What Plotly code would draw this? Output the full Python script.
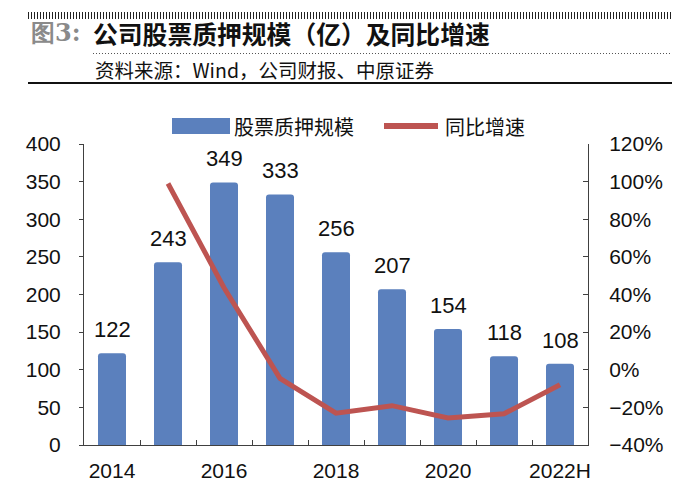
import plotly.graph_objects as go

categories = ["2014", "2015", "2016", "2017", "2018", "2019", "2020", "2021", "2022H"]
pledge_scale = [122, 243, 349, 333, 256, 207, 154, 118, 108]
yoy_growth = [None, 0.99, 0.436, -0.046, -0.231, -0.191, -0.256, -0.234, -0.08]
tick_labels = ["2014", "", "2016", "", "2018", "", "2020", "", "2022H"]
left_ticks = [0, 50, 100, 150, 200, 250, 300, 350, 400]
right_ticks = [-0.4, -0.2, 0, 0.2, 0.4, 0.6, 0.8, 1.0, 1.2]

BAR = "#5b80bd"
LINE = "#bd5451"
AX = "#404040"
FONT = "Liberation Sans, Arial, sans-serif"
CJK = "Noto Sans CJK SC, sans-serif"

L, R, T, B = 84, 588, 144, 445
W, H = 700, 495

def px(x):
    return (x - L) / (R - L)

def py(y):
    return (B - y) / (B - T)

fig = go.Figure()
fig.add_trace(go.Bar(
    x=categories, y=pledge_scale, name="股票质押规模",
    marker=dict(color=BAR, line=dict(width=0), cornerradius=3),
    width=0.5, showlegend=False, hoverinfo="skip",
))
fig.add_trace(go.Scatter(
    x=categories, y=yoy_growth, name="同比增速", yaxis="y2", mode="lines",
    line=dict(color=LINE, width=5), connectgaps=False, showlegend=False,
    hoverinfo="skip",
))

fig.update_layout(
    width=W, height=H,
    margin=dict(l=L, r=W - R, t=T, b=H - B, pad=0),
    paper_bgcolor="white", plot_bgcolor="white",
    xaxis=dict(type="category", tickmode="array", tickvals=categories,
               ticktext=tick_labels, ticks="inside", tickson="boundaries",
               ticklen=5, tickcolor=AX, ticklabelstandoff=7, tickangle=0,
               automargin=False,
               showline=True, linecolor=AX, linewidth=1,
               showgrid=False, tickfont=dict(family=FONT, size=21, color="#111"),
               range=[-0.5, 8.5], fixedrange=True),
    yaxis=dict(range=[0, 400], tickvals=left_ticks, showgrid=False,
               showline=True, linecolor=AX, linewidth=1, ticks="outside",
               ticklen=4, tickcolor=AX, zeroline=False, ticklabelstandoff=14,
               automargin=False, fixedrange=True,
               tickfont=dict(family=FONT, size=21, color="#111")),
    yaxis2=dict(range=[-0.4, 1.2], tickvals=right_ticks, tickformat=".0%",
                overlaying="y", side="right", showgrid=False, showline=True,
                linecolor=AX, linewidth=1, ticks="inside", ticklen=5,
                tickcolor=AX, zeroline=False, ticklabelstandoff=16,
                automargin=False, fixedrange=True,
                tickfont=dict(family=FONT, size=21, color="#111")),
)

shapes = []
# header lines
shapes.append(dict(type="line", xref="paper", yref="paper", x0=px(28), x1=px(672),
                   y0=py(15.5), y1=py(15.5), line=dict(color="#222", width=7, dash="1px,2px")))
shapes.append(dict(type="line", xref="paper", yref="paper", x0=px(93), x1=px(672),
                   y0=py(53.5), y1=py(53.5), line=dict(color="#555", width=1, dash="1px,2px")))
shapes.append(dict(type="line", xref="paper", yref="paper", x0=px(28), x1=px(672),
                   y0=py(83), y1=py(83), line=dict(color="#111", width=2)))
# legend symbols
shapes.append(dict(type="rect", xref="paper", yref="paper", x0=px(172), x1=px(230),
                   y0=py(134), y1=py(118), fillcolor=BAR, line=dict(width=0)))
shapes.append(dict(type="line", xref="paper", yref="paper", x0=px(384), x1=px(438),
                   y0=py(126), y1=py(126), line=dict(color=LINE, width=6)))
fig.update_layout(shapes=shapes)

ann = [
    dict(text="<b>图3:</b>", x=px(29), y=py(33), xanchor="left", yanchor="middle",
         font=dict(family="DejaVu Serif, serif", size=24, color="#8a8a8a")),
    dict(text="<b>公司股票质押规模（亿）及同比增速</b>", x=px(91), y=py(33),
         xanchor="left", yanchor="middle",
         font=dict(family=CJK, size=24.8, color="#111")),
    dict(text="资料来源：Wind，公司财报、中原证券", x=px(93), y=py(70),
         xanchor="left", yanchor="middle",
         font=dict(family=CJK, size=19.5, color="#111")),
    dict(text="股票质押规模", x=px(232), y=py(127), xanchor="left", yanchor="middle",
         font=dict(family=CJK, size=20, color="#111")),
    dict(text="同比增速", x=px(443), y=py(127), xanchor="left", yanchor="middle",
         font=dict(family=CJK, size=20, color="#111")),
]
for a in ann:
    a.update(xref="paper", yref="paper", showarrow=False)

# data labels above bars (x given as category index on the category axis)
for i, v in enumerate(pledge_scale):
    ann.append(dict(text=str(v), x=i, y=v, xref="x", yref="y", showarrow=False,
                    xanchor="center", yanchor="bottom", yshift=9,
                    font=dict(family=FONT, size=22, color="#111")))
fig.update_layout(annotations=ann)

fig.write_html("out.html", config={"displayModeBar": False},
               post_script="document.body.style.margin='0';")
